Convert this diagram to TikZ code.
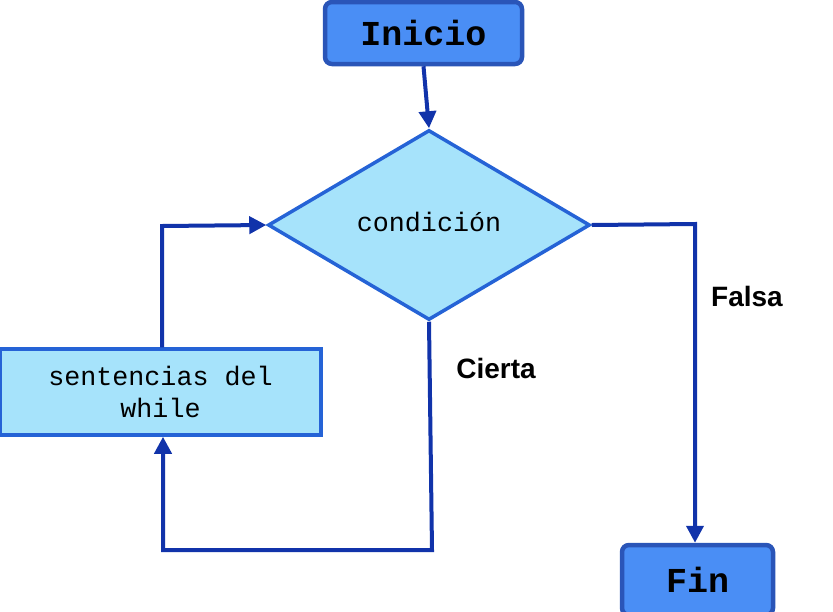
\documentclass[tikz,border=0pt]{standalone}
\usepackage{fontspec}
\setmainfont{Liberation Sans}
\setmonofont{Liberation Mono}
\usepackage{tikz}
\usetikzlibrary{
    arrows.meta,
    positioning,
    calc,
    shapes.geometric
}
\definecolor{fcBlue}{HTML}{4A8EF5}
\definecolor{fcBlueEdge}{HTML}{2A55B8}
\definecolor{fcCyan}{HTML}{A6E3FB}
\definecolor{fcCyanEdge}{HTML}{2563D6}
\definecolor{fcArrow}{HTML}{1133AA}

\begin{document}
\begin{tikzpicture}[x=1pt,y=-1pt,
        terminal/.style={rounded corners=7pt,fill=fcBlue,draw=fcBlueEdge,line width=4.5pt,
            font=\fontsize{35}{38}\selectfont\ttfamily\bfseries,inner sep=0pt},
        cond/.style={diamond,fill=fcCyan,draw=fcCyanEdge,line width=3.5pt,
            minimum width=322pt,minimum height=190pt,inner sep=0pt,
            font=\fontsize{26.7}{30}\selectfont\ttfamily},
        body/.style={fill=fcCyan,draw=fcCyanEdge,line width=3.5pt,align=center,
            font=\fontsize{26.7}{32}\selectfont\ttfamily,inner sep=0pt},
        flow/.style={fcArrow,line width=4pt,-{Triangle[length=17pt,width=17pt]}},
        branch/.style={font=\fontsize{28}{30}\selectfont\bfseries}
    ]
        \useasboundingbox (0,0) rectangle (833,611);

        % Start and end
        \node[terminal,minimum width=197pt,minimum height=62pt] (inicio) at (423.5,33) {Inicio};
        \node[terminal,minimum width=151pt,minimum height=70pt] (fin) at (697.5,580) {Fin};

        % Condition
        \node[cond] (cond) at (429,225) {\raisebox{7pt}{condición}};

        % Loop body
        \node[body,minimum width=321pt,minimum height=86pt] (sent) at (160.5,392) {sentencias del\\while};

        % Branch labels
        \node[branch] (falsa) at (747,296) {Falsa};
        \node[branch] (cierta) at (496,368) {Cierta};

        % Turning points
        \coordinate (loopUp) at (162,226);
        \coordinate (trueDown) at (432,550);
        \coordinate (trueLeft) at (163,550);
        \coordinate (falseRight) at (695,224);

        % Connectors
        \draw[flow] (inicio.south) -- (cond.north);
        \draw[flow] (sent.north -| loopUp) -- (loopUp) -- (cond.west);
        \draw[flow] (cond.south) -- (trueDown) -- (trueLeft) -- (sent.south -| trueLeft);
        \draw[flow] (cond.east) -- (falseRight) -- (fin.north -| falseRight);
\end{tikzpicture}
\end{document}
